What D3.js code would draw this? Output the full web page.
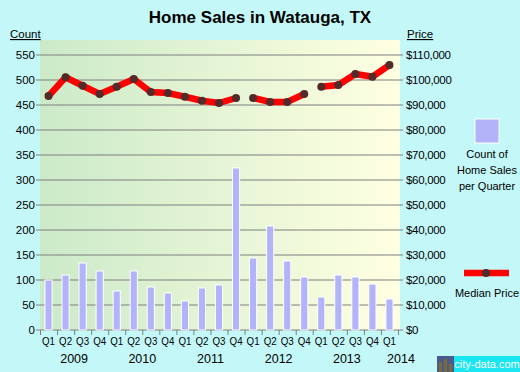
<!DOCTYPE html>
<html>
<head>
<meta charset="utf-8">
<script src="https://cdn.jsdelivr.net/npm/d3@7"></script>
<style>
  body { margin: 0; background: #c4f8f8; }
  svg { display: block; font-family: Arial, "Liberation Sans", sans-serif; }
</style>
</head>
<body>
<svg id="chart" width="520" height="372"></svg>
<script>
const quarters = ['Q1', 'Q2', 'Q3', 'Q4', 'Q1', 'Q2', 'Q3', 'Q4', 'Q1', 'Q2', 'Q3', 'Q4',
  'Q1', 'Q2', 'Q3', 'Q4', 'Q1', 'Q2', 'Q3', 'Q4', 'Q1'];
const years = ['2009', '2010', '2011', '2012', '2013', '2014'];
const salesCount = [100, 110, 134, 118, 78, 118, 86, 74, 58, 84, 90, 324,
  144, 208, 138, 106, 66, 110, 106, 92, 62];
const medianPrice = [93600, 101100, 97700, 94400, 97300, 100400, 95200, 94800, 93300, 91700, 90800, 92800,
  92800, 91200, 91200, 94400, 97300, 98000, 102400, 101300, 106000];
// the price line is broken into these runs of quarters
const priceRuns = [[0, 11], [12, 15], [16, 20]];
const countTicks = d3.range(0, 551, 50);
const priceTicks = d3.range(0, 110001, 10000);

const svg = d3.select('#chart');
const plotLeft = 40, plotRight = 398, plotTop = 40, plotBottom = 330;

const x = d3.scaleBand()
  .domain(d3.range(quarters.length))
  .range([plotLeft, plotRight])
  .paddingInner(0.58)
  .paddingOuter(0.29);
const xEdge = d3.scaleLinear().domain([0, quarters.length]).range([plotLeft, plotRight]);
const yCount = d3.scaleLinear().domain([0, 550]).range([plotBottom, 55]);
const yPrice = d3.scaleLinear().domain([0, 110000]).range([plotBottom, 55]);

const grad = svg.append('defs').append('linearGradient').attr('id', 'bg');
grad.append('stop').attr('offset', '0%').attr('stop-color', '#cbeac8');
grad.append('stop').attr('offset', '100%').attr('stop-color', '#ffffe2');

svg.append('rect')
  .attr('x', plotLeft).attr('y', plotTop)
  .attr('width', 400 - plotLeft).attr('height', plotBottom - plotTop)
  .attr('fill', 'url(#bg)');

svg.append('text')
  .attr('x', 260).attr('y', 23)
  .attr('text-anchor', 'middle')
  .attr('font-size', 17).attr('font-weight', 'bold')
  .text('Home Sales in Watauga, TX');

svg.append('text').attr('x', 10).attr('y', 38).attr('font-size', 11.5)
  .attr('text-decoration', 'underline').text('Count');
svg.append('text').attr('x', 407).attr('y', 38).attr('font-size', 11.5)
  .attr('text-decoration', 'underline').text('Price');

// grid lines
svg.append('g')
  .selectAll('line')
  .data(countTicks)
  .join('line')
  .attr('x1', 36).attr('x2', 403)
  .attr('y1', (d) => yCount(d)).attr('y2', (d) => yCount(d))
  .attr('stroke', '#7f7f7f').attr('stroke-width', 1);

const leftAxis = svg.append('g')
  .attr('transform', `translate(${plotLeft},0)`)
  .call(d3.axisLeft(yCount).tickValues(countTicks).tickSize(0).tickPadding(5));
leftAxis.select('.domain').remove();
leftAxis.selectAll('text').attr('font-size', 11.5).attr('fill', '#000');

const rightAxis = svg.append('g')
  .attr('transform', `translate(400,0)`)
  .call(d3.axisRight(yPrice).tickValues(priceTicks).tickSize(0).tickPadding(6)
    .tickFormat((d) => '$' + d3.format(',')(d)));
rightAxis.select('.domain').remove();
rightAxis.selectAll('text').attr('font-size', 11.5).attr('letter-spacing', -0.3).attr('fill', '#000');

// bars
svg.append('g')
  .selectAll('rect')
  .data(salesCount)
  .join('rect')
  .attr('x', (d, i) => x(i))
  .attr('y', (d) => yCount(d))
  .attr('width', x.bandwidth())
  .attr('height', (d) => plotBottom - yCount(d))
  .attr('fill', '#b3b3f9')
  .attr('stroke', '#fff').attr('stroke-width', 1);

// bottom axis
const bottomAxis = svg.append('g')
  .attr('transform', `translate(0,${plotBottom})`)
  .call(d3.axisBottom(xEdge).tickValues(d3.range(quarters.length + 1)).tickSize(5).tickFormat(''));
bottomAxis.select('.domain').remove();
bottomAxis.selectAll('line').attr('stroke', '#7f7f7f');

svg.append('g')
  .selectAll('text')
  .data(quarters)
  .join('text')
  .attr('x', (d, i) => x(i) + x.bandwidth() / 2)
  .attr('y', 345)
  .attr('text-anchor', 'middle')
  .attr('font-size', 11.5)
  .attr('textLength', 13).attr('lengthAdjust', 'spacingAndGlyphs')
  .text((d) => d);

svg.append('g')
  .selectAll('text')
  .data(years)
  .join('text')
  .attr('x', (d, i) => (i < years.length - 1 ? xEdge(i * 4 + 2) : 401))
  .attr('y', 363)
  .attr('text-anchor', 'middle')
  .attr('font-size', 12.5)
  .text((d) => d);

// median price line
const line = d3.line()
  .x((i) => x(i) + x.bandwidth() / 2)
  .y((i) => yPrice(medianPrice[i]));

svg.append('g')
  .selectAll('path')
  .data(priceRuns)
  .join('path')
  .attr('d', ([a, b]) => line(d3.range(a, b + 1)))
  .attr('fill', 'none')
  .attr('stroke', '#ff0000')
  .attr('stroke-width', 6.5);

svg.append('g')
  .selectAll('circle')
  .data(medianPrice)
  .join('circle')
  .attr('cx', (d, i) => x(i) + x.bandwidth() / 2)
  .attr('cy', (d) => yPrice(d))
  .attr('r', 4)
  .attr('fill', '#532a2a');

// legend
svg.append('rect')
  .attr('x', 475).attr('y', 119).attr('width', 24).attr('height', 24)
  .attr('fill', '#b3b3f9').attr('stroke', '#fff');
svg.append('text')
  .attr('text-anchor', 'middle').attr('font-size', 11)
  .selectAll('tspan')
  .data(['Count of', 'Home Sales', 'per Quarter'])
  .join('tspan')
  .attr('x', 487).attr('y', (d, i) => 158 + i * 16)
  .text((d) => d);

svg.append('line')
  .attr('x1', 464).attr('x2', 509).attr('y1', 273).attr('y2', 273)
  .attr('stroke', '#ff0000').attr('stroke-width', 6.5);
svg.append('circle').attr('cx', 486).attr('cy', 273).attr('r', 4).attr('fill', '#532a2a');
svg.append('text')
  .attr('x', 487).attr('y', 297)
  .attr('text-anchor', 'middle').attr('font-size', 11)
  .text('Median Price');

// watermark
const wm = svg.append('g').attr('transform', 'translate(437,356)');
wm.append('rect').attr('width', 17).attr('height', 16).attr('fill', '#4a5a8a');
wm.append('rect').attr('x', 2).attr('y', 6).attr('width', 3).attr('height', 10).attr('fill', '#7a6a3a');
wm.append('rect').attr('x', 7).attr('y', 3).attr('width', 3).attr('height', 13).attr('fill', '#7a6a3a');
wm.append('rect').attr('x', 12).attr('y', 8).attr('width', 3).attr('height', 8).attr('fill', '#7a6a3a');
wm.append('rect').attr('x', 17).attr('y', 0).attr('width', 66).attr('height', 16).attr('fill', '#19e6f0');
wm.append('text')
  .attr('x', 50).attr('y', 12)
  .attr('text-anchor', 'middle').attr('font-size', 11).attr('fill', '#fff')
  .text('city-data.com');
</script>
</body>
</html>
